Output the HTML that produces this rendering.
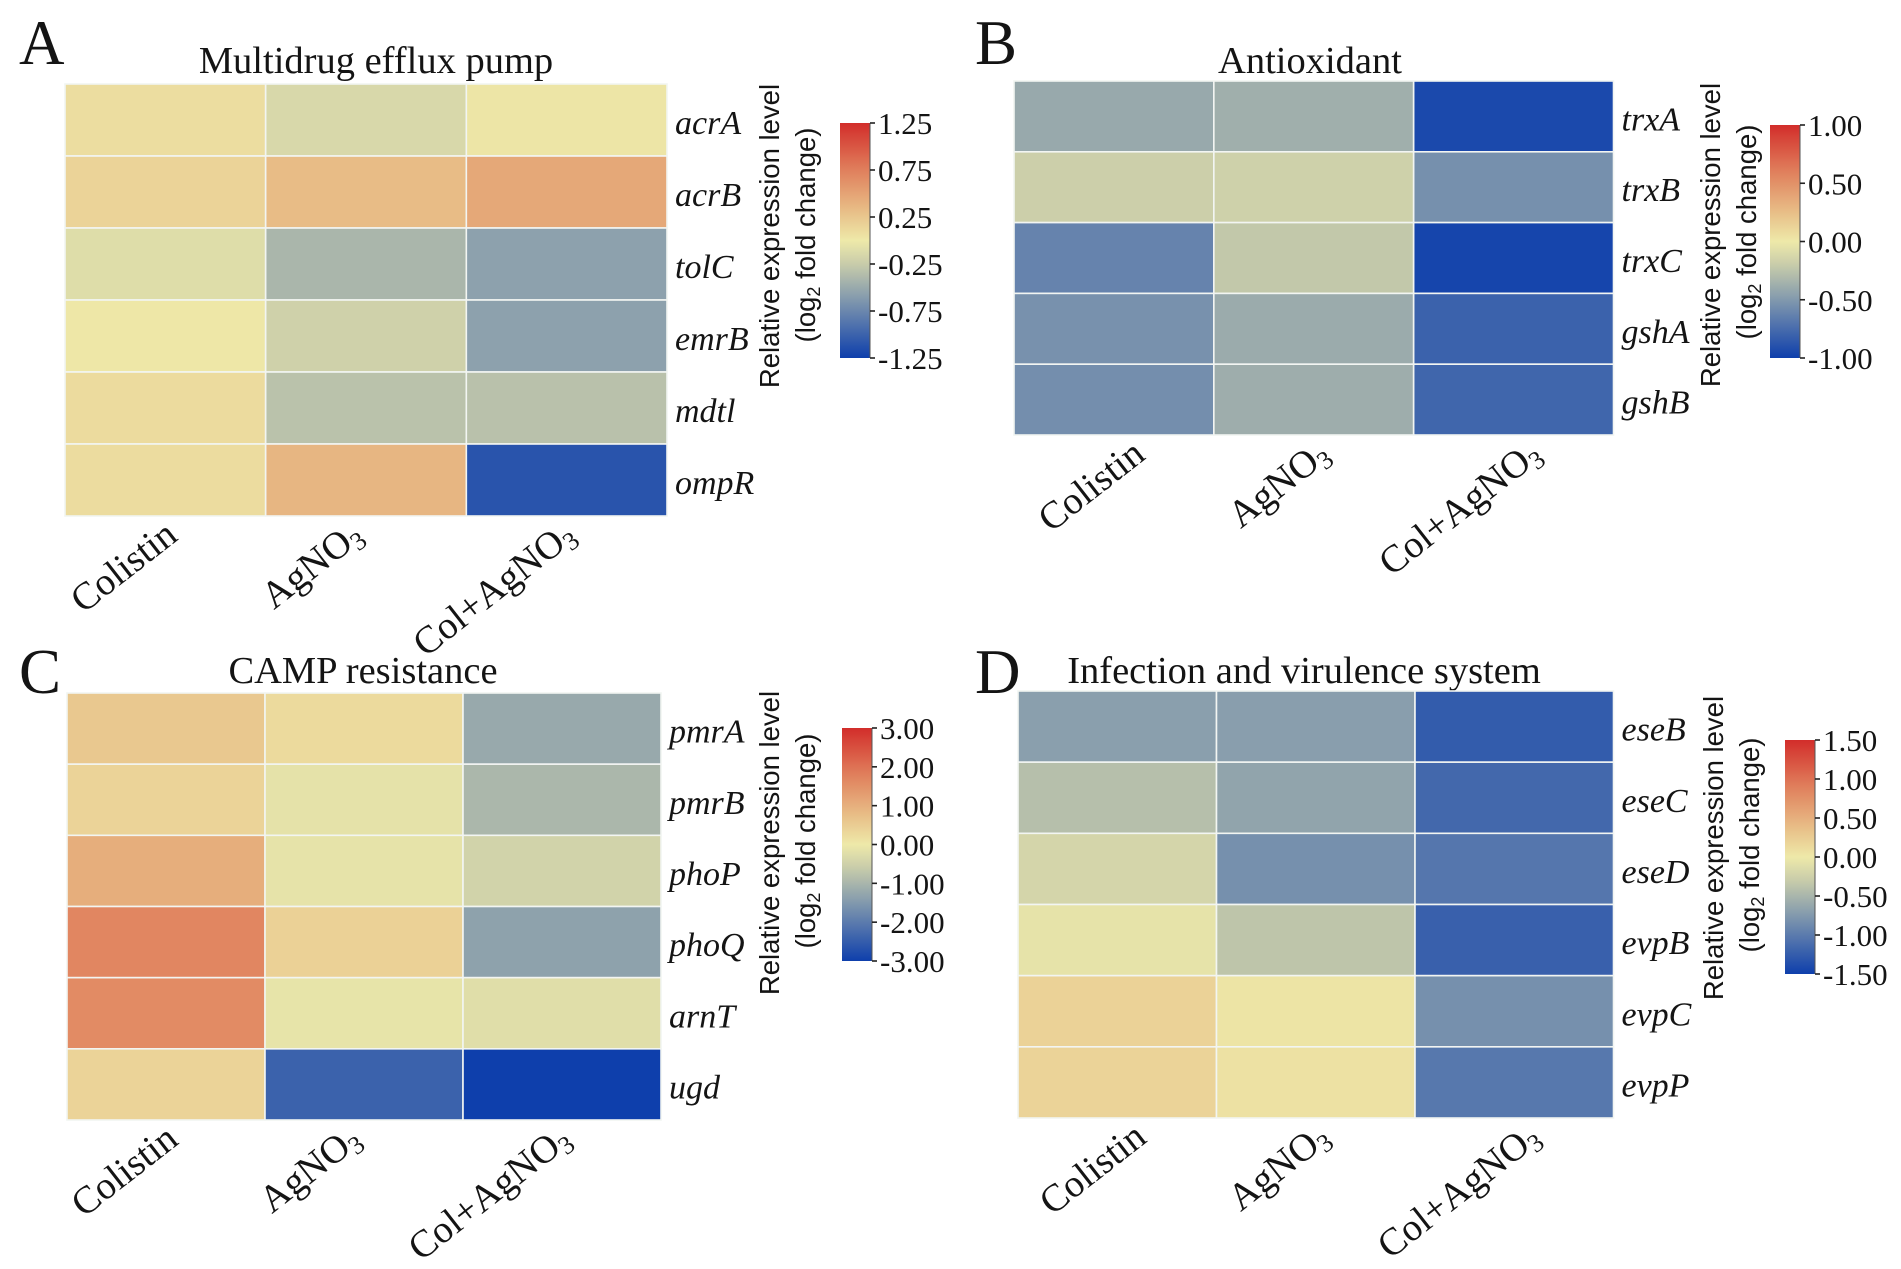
<!DOCTYPE html>
<html>
<head>
<meta charset="utf-8">
<title>Relative expression heatmaps</title>
<style>
html,body{margin:0;padding:0;background:#fff;}
svg{display:block;}
text{fill:#141414;}
.serif{font-family:"Liberation Serif",serif;}
.sans{font-family:"Liberation Sans",sans-serif;}
</style>
</head>
<body>
<svg id="figure" xmlns="http://www.w3.org/2000/svg" width="1901" height="1269" viewBox="0 0 1901 1269"></svg>
<script>
const categories = ["Colistin", "AgNO3", "Col+AgNO3"];

const rowsA = ["acrA", "acrB", "tolC", "emrB", "mdtl", "ompR"];
const valuesA = [
  [0.087, -0.147, 0.029],
  [0.16, 0.326, 0.465],
  [-0.103, -0.412, -0.566],
  [0.015, -0.207, -0.566],
  [0.10, -0.324, -0.331],
  [0.094, 0.368, -1.104]
];
const ticksA = [1.25, 0.75, 0.25, -0.25, -0.75, -1.25];

const rowsB = ["trxA", "trxB", "trxC", "gshA", "gshB"];
const valuesB = [
  [-0.406, -0.371, -0.944],
  [-0.179, -0.166, -0.55],
  [-0.622, -0.224, -0.967],
  [-0.544, -0.394, -0.806],
  [-0.561, -0.382, -0.783]
];
const ticksB = [1, 0.5, 0, -0.5, -1];

const rowsC = ["pmrA", "pmrB", "phoP", "phoQ", "arnT", "ugd"];
const valuesC = [
  [0.576, 0.262, -1.218],
  [0.384, -0.145, -0.971],
  [1.016, -0.124, -0.455],
  [1.683, 0.419, -1.341],
  [1.6, -0.103, -0.228],
  [0.384, -2.418, -3]
];
const ticksC = [3, 2, 1, 0, -1, -2, -3];

const rowsD = ["eseB", "eseC", "eseD", "evpB", "evpC", "evpP"];
const valuesD = [
  [-0.697, -0.706, -1.258],
  [-0.415, -0.653, -1.158],
  [-0.207, -0.825, -1.042],
  [-0.062, -0.362, -1.225],
  [0.2, 0.044, -0.825],
  [0.192, 0.07, -1.025]
];
const ticksD = [1.5, 1, 0.5, 0, -0.5, -1, -1.5];

const colormapStops = [
  [-1.0, [14, 63, 172]],
  [-0.5, [130, 153, 173]],
  [-0.2, [200, 204, 170]],
  [0.0, [238, 233, 169]],
  [0.25, [232, 190, 135]],
  [0.6, [224, 127, 92]],
  [1.0, [210, 45, 42]]
];

function colorAt(t) {
  const c = Math.max(-1, Math.min(1, t));
  for (let i = 1; i < colormapStops.length; i++) {
    const a = colormapStops[i - 1], b = colormapStops[i];
    if (c <= b[0]) {
      const f = (c - a[0]) / (b[0] - a[0]);
      const rgb = a[1].map((v, k) => Math.round(v + (b[1][k] - v) * f));
      return "rgb(" + rgb.join(",") + ")";
    }
  }
  return "rgb(210,45,42)";
}

const NS = "http://www.w3.org/2000/svg";
const svg = document.getElementById("figure");

function mk(tag, parent, attrs) {
  const el = document.createElementNS(NS, tag);
  for (const k in attrs) el.setAttribute(k, attrs[k]);
  parent.appendChild(el);
  return el;
}

function drawPanel(p) {
  const g = mk("g", svg, {});
  
  

  const letter = mk("text", g, {x: p.letterX, y: p.letterY, "class": "serif", "font-size": 63});
  
  
  letter.textContent = p.letter;

  const title = mk("text", g, {x: p.titleX, y: p.titleY, "class": "serif", "font-size": 38.5, "text-anchor": "middle"});
  
  
  title.textContent = p.title;

  const nCols = categories.length, nRows = p.rows.length;
  const xPos = i => p.x0 + (p.x1 - p.x0) * i / nCols;
  const yPos = j => p.y0 + (p.y1 - p.y0) * j / nRows;
  const norm = v => v / p.vmax;

  p.values.forEach((row, j) => {
    row.forEach((v, i) => {
      const cell = mk("rect", g, {
        x: xPos(i), y: yPos(j), width: xPos(i + 1) - xPos(i), height: yPos(j + 1) - yPos(j),
        fill: colorAt(norm(v)), stroke: "#f2f5f2", "stroke-width": 1.6
      });
      
      
    });
  });

  p.rows.forEach((name, j) => {
    const t = mk("text", g, {
      x: p.x1 + 8, y: (yPos(j) + yPos(j + 1)) / 2 + 14,
      "class": "serif", "font-size": 34, "font-style": "italic"
    });
    
    
    t.textContent = name;
  });

  const labelShift = [0, -15, -3];
  categories.forEach((name, i) => {
    const cx = (xPos(i) + xPos(i + 1)) / 2 + p.labelDx + labelShift[i];
    const cy = p.y1 + p.labelDy;
    const t = mk("text", g, {
      transform: "translate(" + cx + "," + cy + ") rotate(-38)",
      "class": "serif", "font-size": 38.5, "text-anchor": "end"
    });
    
    
    if (name.endsWith("3")) {
      t.appendChild(document.createTextNode(name.slice(0, -1)));
      const sub = mk("tspan", t, {"font-size": 26, dy: 6});
      sub.textContent = "3";
    } else {
      t.textContent = name;
    }
  });

  const gradId = "grad-" + p.letter;
  const defs = mk("defs", g, {});
  const grad = mk("linearGradient", defs, {id: gradId, x1: 0, y1: 1, x2: 0, y2: 0});
  for (let s = 0; s <= 40; s++) {
    mk("stop", grad, {offset: s / 40, "stop-color": colorAt(-1 + 2 * s / 40)});
  }
  const bar = mk("rect", g, {x: p.cbX0, y: p.cbY0, width: p.cbX1 - p.cbX0, height: p.cbY1 - p.cbY0, fill: "url(#" + gradId + ")"});
  
  

  const cbY = v => p.cbY0 + (p.cbY1 - p.cbY0) * (1 - (v + p.vmax) / (2 * p.vmax));
  const axis = mk("line", g, {x1: p.cbX1, x2: p.cbX1, y1: p.cbY0, y2: p.cbY1, stroke: "#555", "stroke-width": 1});
  
  

  p.ticks.forEach(v => {
    const y = cbY(v);
    const tick = mk("line", g, {x1: p.cbX1, x2: p.cbX1 + 5, y1: y, y2: y, stroke: "#222", "stroke-width": 1.6});
    
    
    const lab = mk("text", g, {x: p.cbX1 + 8, y: y + 11, "class": "serif", "font-size": 31});
    
    
    lab.textContent = v.toFixed(2);
  });

  const l1 = mk("text", g, {
    transform: "translate(" + p.cblX + "," + p.cblY + ") rotate(-90)",
    "class": "sans", "font-size": 27.5, "text-anchor": "middle"
  });
  
  
  l1.textContent = "Relative expression level";

  const l2 = mk("text", g, {
    transform: "translate(" + (p.cblX + 36) + "," + (p.cblY + p.cbl2Dy) + ") rotate(-90)",
    "class": "sans", "font-size": 27.5, "text-anchor": "middle"
  });
  
  
  l2.appendChild(document.createTextNode("(log"));
  const s2 = mk("tspan", l2, {"font-size": 18, dy: 5});
  s2.textContent = "2";
  const rest = mk("tspan", l2, {dy: -5});
  rest.textContent = " fold change)";
}

drawPanel({letter: "A", title: "Multidrug efflux pump", rows: rowsA, values: valuesA, ticks: ticksA, vmax: 1.25,
  letterX: 19, letterY: 64, titleX: 376, titleY: 73,
  x0: 65, x1: 667, y0: 84, y1: 516, labelDx: 14, labelDy: 23,
  cbX0: 840, cbX1: 870, cbY0: 123, cbY1: 358, cblX: 779, cblY: 236, cbl2Dy: -1});

drawPanel({letter: "B", title: "Antioxidant", rows: rowsB, values: valuesB, ticks: ticksB, vmax: 1,
  letterX: 975, letterY: 64, titleX: 1310, titleY: 73,
  x0: 1014, x1: 1613.5, y0: 81, y1: 435, labelDx: 33, labelDy: 23,
  cbX0: 1770, cbX1: 1800, cbY0: 125, cbY1: 358, cblX: 1720, cblY: 235, cbl2Dy: -3});

drawPanel({letter: "C", title: "CAMP resistance", rows: rowsC, values: valuesC, ticks: ticksC, vmax: 3,
  letterX: 19, letterY: 693, titleX: 363, titleY: 683,
  x0: 67, x1: 661, y0: 693, y1: 1120, labelDx: 14, labelDy: 23,
  cbX0: 842, cbX1: 872, cbY0: 728, cbY1: 961, cblX: 779, cblY: 843, cbl2Dy: -2});

drawPanel({letter: "D", title: "Infection and virulence system", rows: rowsD, values: valuesD, ticks: ticksD, vmax: 1.5,
  letterX: 975, letterY: 693, titleX: 1304, titleY: 683,
  x0: 1018, x1: 1613.5, y0: 691, y1: 1118, labelDx: 31, labelDy: 23,
  cbX0: 1785, cbX1: 1815, cbY0: 740, cbY1: 974, cblX: 1723, cblY: 848, cbl2Dy: -3});
</script>
</body>
</html>
